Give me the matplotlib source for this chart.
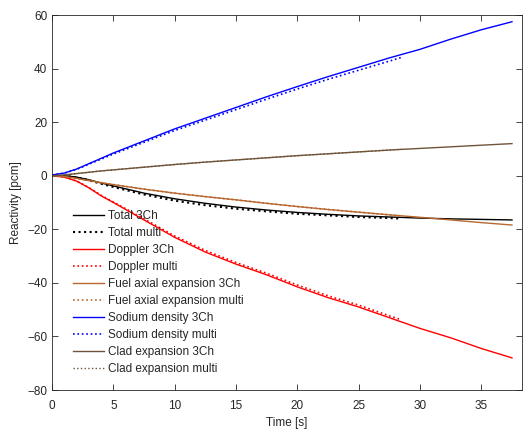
import matplotlib
matplotlib.use("Agg")
import matplotlib.pyplot as plt

# --- data (time in s, reactivity in pcm) ---
t_3ch = [0, 1, 2, 3, 4, 5, 7.5, 10, 12.5, 15, 17.5, 20, 22.5, 25, 27.5, 30, 32.5, 35, 37.5]
t_multi = [0, 1, 2, 3, 4, 5, 7.5, 10, 12.5, 15, 17.5, 20, 22.5, 25, 27.5, 28.5]

total_3ch = [0, 0, -0.5, -1.5, -2.7, -3.8, -6.5, -8.6, -10.3, -11.7, -12.8, -13.7, -14.4, -15.0, -15.4, -15.8, -16.1, -16.3, -16.5]
total_multi = [0, 0, -0.6, -1.7, -3.0, -4.2, -7.0, -9.3, -11.0, -12.3, -13.3, -14.2, -14.8, -15.4, -15.8, -16.0]

doppler_3ch = [0, -0.5, -2, -4.5, -7.5, -10, -16.5, -23, -28.5, -33, -37, -41.5, -45.5, -49, -53, -57, -60.5, -64.5, -68]
doppler_multi = [0, -0.5, -2, -4.4, -7.3, -9.8, -16.1, -22.5, -27.9, -32.4, -36.4, -40.8, -44.8, -48.3, -52.3, -53.8]

fuel_3ch = [0, -0.3, -1.0, -1.8, -2.6, -3.3, -5.0, -6.5, -7.8, -9.0, -10.3, -11.5, -12.6, -13.6, -14.6, -15.5, -16.5, -17.5, -18.4]
fuel_multi = [0, -0.3, -1.0, -1.8, -2.6, -3.3, -5.0, -6.5, -7.8, -9.0, -10.3, -11.5, -12.6, -13.6, -14.6, -15.0]

sodium_3ch = [0.3, 1.0, 2.5, 4.5, 6.5, 8.5, 13, 17.5, 21.5, 25.5, 29.5, 33.3, 37, 40.5, 44, 47.2, 51, 54.5, 57.5]
sodium_multi = [0.3, 1.0, 2.4, 4.3, 6.2, 8.1, 12.5, 16.9, 20.8, 24.7, 28.6, 32.4, 36.0, 39.4, 42.8, 44.2]

clad_3ch = [0, 0.3, 0.8, 1.3, 1.8, 2.2, 3.2, 4.2, 5.1, 5.9, 6.7, 7.5, 8.2, 8.9, 9.6, 10.2, 10.8, 11.4, 12.0]
clad_multi = [0, 0.3, 0.8, 1.3, 1.8, 2.2, 3.2, 4.2, 5.1, 5.9, 6.7, 7.5, 8.2, 8.9, 9.6, 9.9]

FUEL_C = "#B8682F"
CLAD_C = "#70543A"
AX_C = (0.15, 0.15, 0.15)

plt.rcParams['font.family'] = ['Liberation Sans', 'DejaVu Sans']
plt.rcParams['font.size'] = 8.5

fig = plt.figure(figsize=(5.26, 4.30), dpi=100)
ax = fig.add_axes([0.099, 0.093, 0.893, 0.872])

lw = 1.0
ax.plot(t_3ch, total_3ch, '-', color='black', lw=lw, label='Total 3Ch')
ax.plot(t_multi, total_multi, ':', color='black', lw=1.5, label='Total multi')
ax.plot(t_3ch, doppler_3ch, '-', color='red', lw=lw, label='Doppler 3Ch')
ax.plot(t_multi, doppler_multi, ':', color='red', lw=1.2, label='Doppler multi')
ax.plot(t_3ch, fuel_3ch, '-', color=FUEL_C, lw=lw, label='Fuel axial expansion 3Ch')
ax.plot(t_multi, fuel_multi, ':', color=FUEL_C, lw=1.2, label='Fuel axial expansion multi')
ax.plot(t_3ch, sodium_3ch, '-', color='blue', lw=lw, label='Sodium density 3Ch')
ax.plot(t_multi, sodium_multi, ':', color='blue', lw=1.2, label='Sodium density multi')
ax.plot(t_3ch, clad_3ch, '-', color=CLAD_C, lw=lw, label='Clad expansion 3Ch')
ax.plot(t_multi, clad_multi, ':', color=CLAD_C, lw=1.0, label='Clad expansion multi')

ax.set_xlim(0, 38.3)
ax.set_ylim(-80, 60)
ax.set_xticks(range(0, 36, 5))
ax.set_yticks(range(-80, 61, 20))

# MATLAB-like box with inward ticks on all sides
for side in ['left', 'bottom', 'top', 'right']:
    ax.spines[side].set_color(AX_C)
    ax.spines[side].set_linewidth(0.6)
ax.tick_params(direction='in', top=True, right=True, length=4, width=0.6,
               colors=AX_C, labelsize=8.5)
ax.tick_params(axis='x', pad=7)

ax.set_xlabel('Time [s]', color=AX_C, fontsize=8.5, labelpad=4)
ax.set_ylabel('Reactivity [pcm]', color=AX_C, fontsize=8.5, labelpad=4)

leg = ax.legend(loc='lower left', bbox_to_anchor=(0.022, 0.012), frameon=False,
                fontsize=8.5, handlelength=2.6, handletextpad=0.4,
                labelspacing=0.42, borderaxespad=0.5)
for txt in leg.get_texts():
    txt.set_color(AX_C)

fig.savefig('out.png', dpi=100)
